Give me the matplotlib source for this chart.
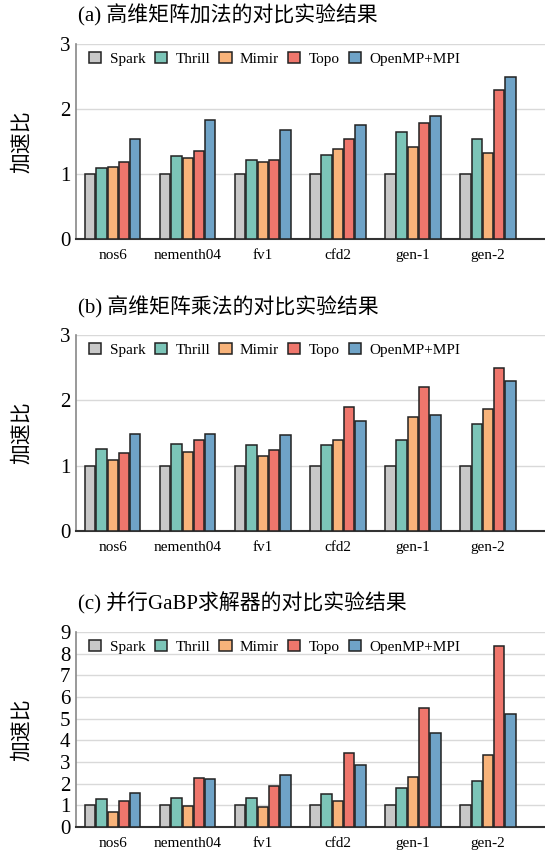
import matplotlib
matplotlib.use("Agg")
import matplotlib.pyplot as plt
import numpy as np

plt.rcParams['font.family'] = ['Liberation Serif', 'Noto Sans CJK SC']

categories = ["nos6", "nementh04", "fv1", "cfd2", "gen-1", "gen-2"]
methods = ["Spark", "Thrill", "Mimir", "Topo", "OpenMP+MPI"]
colors = ["#c8c8c8", "#7cc5b8", "#f8b37a", "#ef766c", "#6fa3c7"]

# (a) matrix addition
add_spark = [1.00, 1.00, 1.00, 1.00, 1.00, 1.00]
add_thrill = [1.10, 1.28, 1.21, 1.29, 1.64, 1.54]
add_mimir = [1.11, 1.24, 1.19, 1.38, 1.42, 1.32]
add_topo = [1.19, 1.35, 1.21, 1.54, 1.79, 2.30]
add_omp = [1.54, 1.83, 1.68, 1.76, 1.90, 2.50]

# (b) matrix multiplication
mul_spark = [1.00, 1.00, 1.00, 1.00, 1.00, 1.00]
mul_thrill = [1.26, 1.33, 1.32, 1.31, 1.39, 1.64]
mul_mimir = [1.09, 1.21, 1.14, 1.40, 1.74, 1.87]
mul_topo = [1.20, 1.40, 1.24, 1.90, 2.20, 2.50]
mul_omp = [1.48, 1.48, 1.47, 1.68, 1.78, 2.30]

# (c) GaBP solver
gabp_spark = [1.00, 1.00, 1.00, 1.00, 1.00, 1.00]
gabp_thrill = [1.30, 1.33, 1.32, 1.50, 1.79, 2.10]
gabp_mimir = [0.69, 0.95, 0.90, 1.21, 2.29, 3.30]
gabp_topo = [1.21, 2.27, 1.87, 3.42, 5.51, 8.36]
gabp_omp = [1.58, 2.22, 2.42, 2.85, 4.33, 5.23]

panels = [
    ("(a) 高维矩阵加法的对比实验结果", [add_spark, add_thrill, add_mimir, add_topo, add_omp], 3),
    ("(b) 高维矩阵乘法的对比实验结果", [mul_spark, mul_thrill, mul_mimir, mul_topo, mul_omp], 3),
    ("(c) 并行GaBP求解器的对比实验结果", [gabp_spark, gabp_thrill, gabp_mimir, gabp_topo, gabp_omp], 9),
]

# axes boxes in figure fractions [left, bottom, width, height]
boxes = [
    [0.1394, 0.7221, 0.8606, 0.2267],
    [0.1394, 0.3826, 0.8606, 0.2279],
    [0.1394, 0.0384, 0.8606, 0.2267],
]
title_y = [0.982, 0.643, 0.299]

fig = plt.figure(figsize=(5.45, 8.6), dpi=100)
x = np.arange(len(categories))
width = 0.138
step = 0.15

for (title, series, ymax), box, ty in zip(panels, boxes, title_y):
    ax = fig.add_axes(box)
    for i, (name, vals, c) in enumerate(zip(methods, series, colors)):
        ax.bar(x + (i - 2) * step, vals, width, color=c, edgecolor="#222222",
               linewidth=1.1, label=name, zorder=3)
    ax.set_xlim(-0.49, 5.76)
    ax.set_ylim(0, ymax)
    ax.set_yticks(range(0, ymax + 1))
    ax.set_xticks(x)
    ax.set_xticklabels(categories, fontsize=11)
    ax.tick_params(axis="y", labelsize=15, length=0, pad=4)
    ax.tick_params(axis="x", length=0, pad=7)
    ax.grid(axis="y", color="#d9d9d9", linewidth=1.0, zorder=0)
    for s in ["top", "right"]:
        ax.spines[s].set_visible(False)
    ax.spines["left"].set_color("#888888")
    ax.spines["left"].set_linewidth(1.2)
    ax.spines["bottom"].set_color("#333333")
    ax.spines["bottom"].set_linewidth(1.5)
    ax.set_ylabel("加速比", fontsize=15)
    ax.yaxis.set_label_coords(-0.094, 0.5)
    ax.legend(loc="upper left", ncol=5, frameon=False, fontsize=11,
              handlelength=0.8, handleheight=0.8, handletextpad=0.55,
              columnspacing=0.6, borderaxespad=0.1,
              bbox_to_anchor=(0.012, 1.0))
    fig.text(0.143, ty, title, fontsize=15, va="center", ha="left")

fig.savefig("out.png", dpi=100)
